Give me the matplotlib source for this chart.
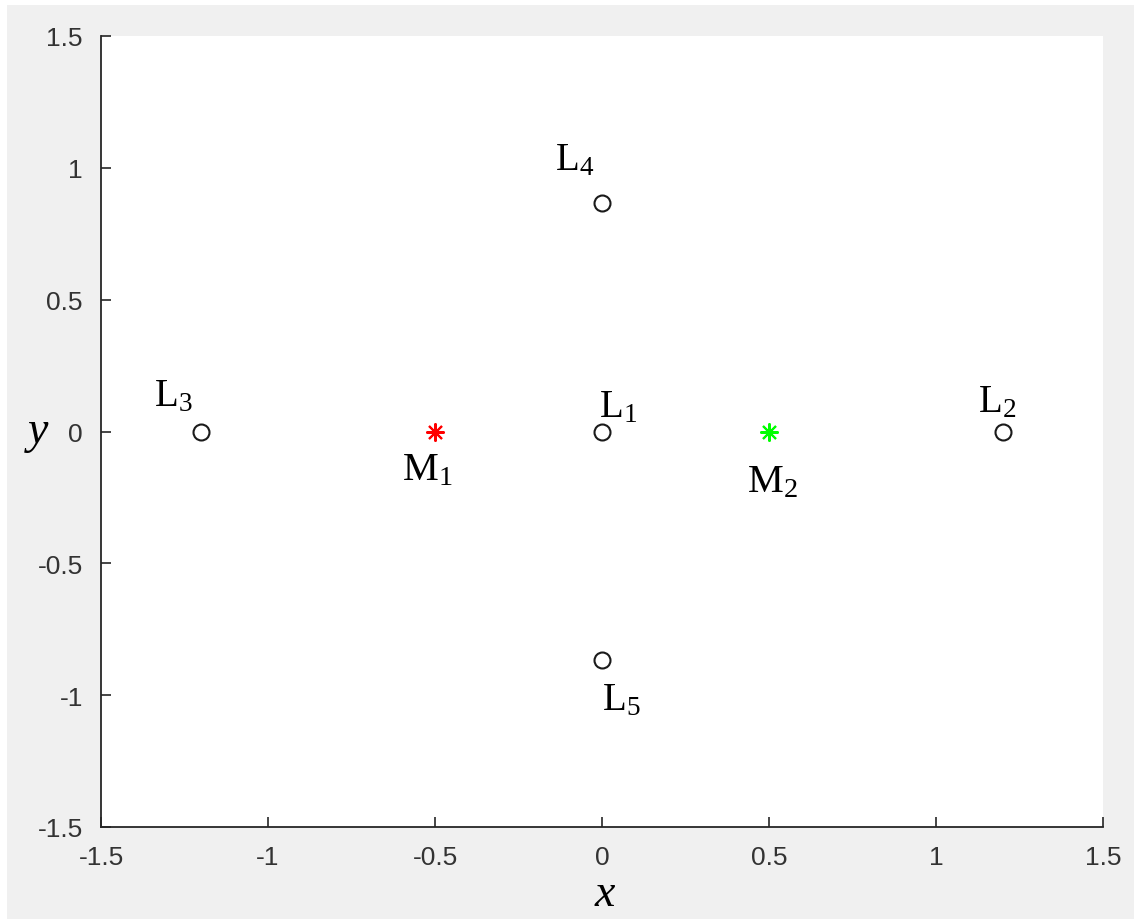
import matplotlib
matplotlib.use("Agg")
import matplotlib.pyplot as plt
from matplotlib.patches import Rectangle

plt.rcParams['mathtext.fontset'] = 'custom'
plt.rcParams['mathtext.rm'] = 'Liberation Serif'
plt.rcParams['mathtext.it'] = 'Liberation Serif:italic'
plt.rcParams['axes.unicode_minus'] = False

# Data
lagrange_names = ['1', '2', '3', '4', '5']
lagrange_x = [0.0, 1.2, -1.2, 0.0, 0.0]
lagrange_y = [0.0, 0.0, 0.0, 0.866, -0.866]
lagrange_label_x = [-0.01, 1.125, -1.34, -0.14, 0.0]
lagrange_label_y = [0.10, 0.12, 0.14, 1.035, -1.01]

mass_names = ['1', '2']
mass_x = [-0.5, 0.5]
mass_y = [0.0, 0.0]
mass_colors = ['#FF0000', '#00FF00']
mass_label_x = [-0.60, 0.435]
mass_label_y = [-0.14, -0.185]

ticks = [-1.5, -1, -0.5, 0, 0.5, 1, 1.5]
tick_labels = ['-1.5', '-1', '-0.5', '0', '0.5', '1', '1.5']

W, H = 1134, 920
fig = plt.figure(figsize=(W / 100, H / 100), dpi=100, facecolor='#F0F0F0')
# white strips at top and left edges
fig.patches.append(Rectangle((0, 1 - 6 / H), 1, 6 / H, transform=fig.transFigure,
                             facecolor='white', edgecolor='none', zorder=-1))
fig.patches.append(Rectangle((0, 0), 7 / W, 1, transform=fig.transFigure,
                             facecolor='white', edgecolor='none', zorder=-1))

ax = fig.add_axes([101 / W, (H - 828) / H, (1103 - 101) / W, (828 - 37) / H])
ax.set_facecolor('white')
ax.set_xlim(-1.5, 1.5)
ax.set_ylim(-1.5, 1.5)
for s in ['top', 'right']:
    ax.spines[s].set_visible(False)
for s in ['left', 'bottom']:
    ax.spines[s].set_color('#262626')
    ax.spines[s].set_linewidth(1.3)

ax.set_xticks(ticks)
ax.set_xticklabels(tick_labels)
ax.set_yticks(ticks)
ax.set_yticklabels(tick_labels)
ax.tick_params(direction='in', length=7, width=1.2, color='#262626',
               labelcolor='#333333', labelsize=19)
ax.tick_params(axis='x', pad=13)
ax.tick_params(axis='y', pad=13)
for lab in ax.get_xticklabels() + ax.get_yticklabels():
    lab.set_fontfamily('Liberation Sans')

# Lagrange points
ax.plot(lagrange_x, lagrange_y, linestyle='none', marker='o', markersize=11.5,
        markerfacecolor='none', markeredgecolor='#1A1A1A', markeredgewidth=1.5,
        clip_on=False)
for n, lx, ly in zip(lagrange_names, lagrange_label_x, lagrange_label_y):
    ax.text(lx, ly, r'$\mathrm{L}_{%s}$' % n, fontsize=28, ha='left', va='center')

# Masses
for mx, my, c in zip(mass_x, mass_y, mass_colors):
    ax.plot([mx], [my], linestyle='none', marker=(8, 2, 0), markersize=13,
            markeredgecolor=c, markeredgewidth=1.5)
for n, lx, ly in zip(mass_names, mass_label_x, mass_label_y):
    ax.text(lx, ly, r'$\mathrm{M}_{%s}$' % n, fontsize=29, ha='left', va='center')

fig.text(605 / W, 1 - 895 / H, 'x', fontsize=33, fontstyle='italic',
         family='Liberation Serif', ha='center', va='center')
fig.text(38 / W, 1 - 432 / H, 'y', fontsize=33, fontstyle='italic',
         family='Liberation Serif', ha='center', va='center')

fig.savefig('out.png', dpi=100, facecolor=fig.get_facecolor())
